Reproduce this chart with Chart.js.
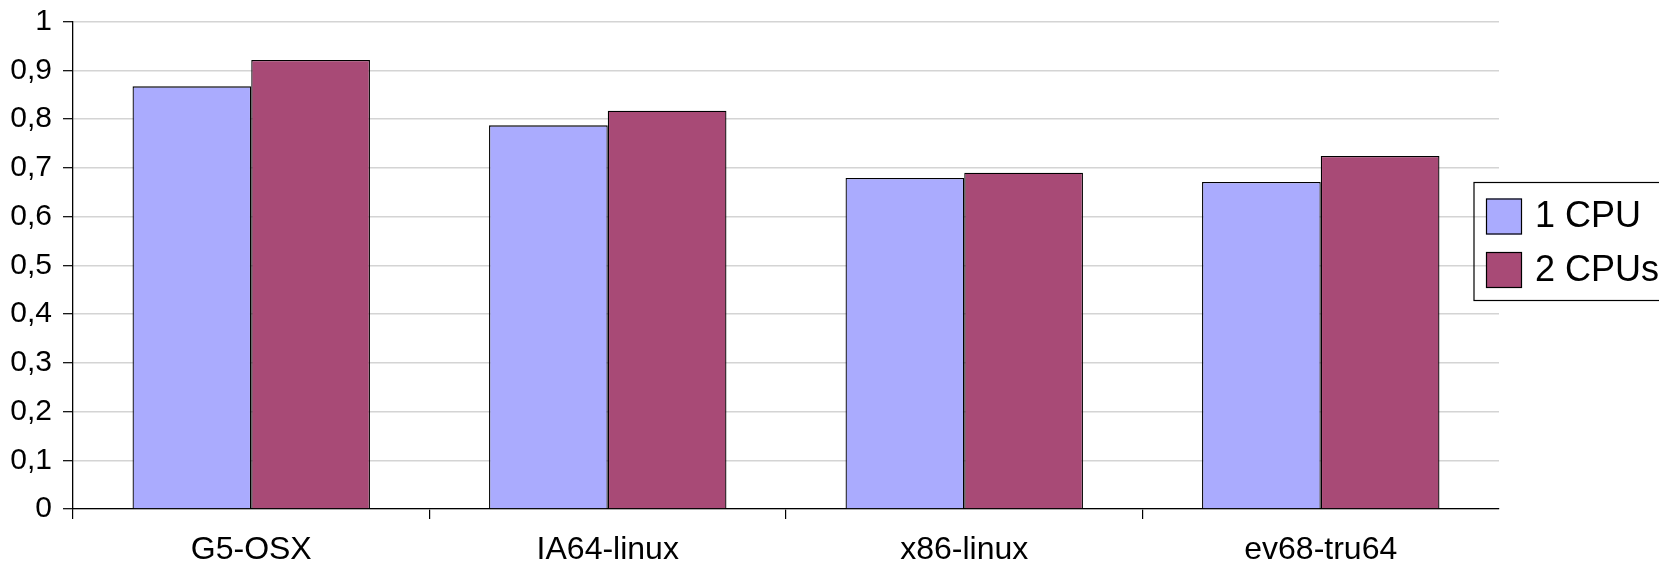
<!DOCTYPE html>
<html>
<head>
<meta charset="utf-8">
<style>
  html, body { margin: 0; padding: 0; background: #fff; }
  #wrap { width: 1659px; height: 562px; }
</style>
<script src="https://cdn.jsdelivr.net/npm/chart.js@4/dist/chart.umd.min.js"></script>
</head>
<body>
<div id="wrap"><canvas id="c" width="1659" height="562"></canvas></div>
<script>
// Platforms on the category axis
const categories = ['G5-OSX', 'IA64-linux', 'x86-linux', 'ev68-tru64'];
// Measured values per platform
const oneCpu = [0.867, 0.787, 0.679, 0.671];
const twoCpus = [0.921, 0.817, 0.690, 0.724];
// Value axis labels (decimal comma)
const yTickLabels = ['0', '0,1', '0,2', '0,3', '0,4', '0,5', '0,6', '0,7', '0,8', '0,9', '1'];

const FONT = 'Liberation Sans, Arial, sans-serif';

// Boxed legend drawn over the right side of the plot
const boxLegend = {
  id: 'boxLegend',
  afterDraw(chart) {
    const ctx = chart.ctx;
    const x = 1474, y = 182.5, w = 220, h = 118;
    ctx.save();
    ctx.strokeStyle = '#000';
    ctx.lineWidth = 1.2;
    ctx.strokeRect(x, y, w, h);
    ctx.font = '36px ' + FONT;
    ctx.textBaseline = 'middle';
    ctx.textAlign = 'left';
    chart.data.datasets.forEach((ds, i) => {
      const sy = 198.5 + i * 53.5;
      ctx.fillStyle = ds.backgroundColor;
      ctx.fillRect(1486, sy, 36, 36);
      ctx.strokeStyle = '#000';
      ctx.lineWidth = 1.2;
      ctx.strokeRect(1486.5, sy + 0.5, 35, 35);
      ctx.fillStyle = '#000';
      ctx.fillText(ds.label, 1535, sy + 19);
    });
    ctx.restore();
  }
};

new Chart(document.getElementById('c'), {
  type: 'bar',
  data: {
    labels: categories,
    datasets: [
      { label: '1 CPU', data: oneCpu, backgroundColor: '#aaabfe', borderColor: '#000', borderWidth: 1.3 },
      { label: '2 CPUs', data: twoCpus, backgroundColor: '#a84a76', borderColor: '#000', borderWidth: 1.3 }
    ]
  },
  options: {
    responsive: false,
    animation: false,
    devicePixelRatio: 1,
    layout: { padding: { left: 0, right: 160, top: 0, bottom: 0 } },
    categoryPercentage: 0.666,
    barPercentage: 1.0,
    plugins: {
      legend: { display: false },
      tooltip: { enabled: false }
    },
    scales: {
      x: {
        grid: {
          drawOnChartArea: false,
          tickLength: 10,
          lineWidth: 1.2,
          tickColor: (c) => (c.index === undefined ? 'rgba(0,0,0,0)' : '#000')
        },
        border: { color: '#000', width: 1.3 },
        ticks: {
          color: '#000',
          font: { family: FONT, size: 32 },
          padding: 12,
          maxRotation: 0,
          autoSkip: false
        },
        afterFit: (s) => { s.height = 53; }
      },
      y: {
        min: 0,
        max: 1,
        grid: {
          color: '#d4d4d4',
          lineWidth: 1.4,
          tickLength: 10,
          tickColor: '#000',
          tickWidth: 1.2
        },
        border: { color: '#000', width: 1.3 },
        ticks: {
          stepSize: 0.1,
          color: '#000',
          font: { family: FONT, size: 30, lineHeight: 0.7 },
          padding: 11,
          callback: (v, i) => yTickLabels[i]
        },
        afterFit: (s) => { s.width = 73; }
      }
    }
  },
  plugins: [boxLegend]
});
</script>
</body>
</html>
